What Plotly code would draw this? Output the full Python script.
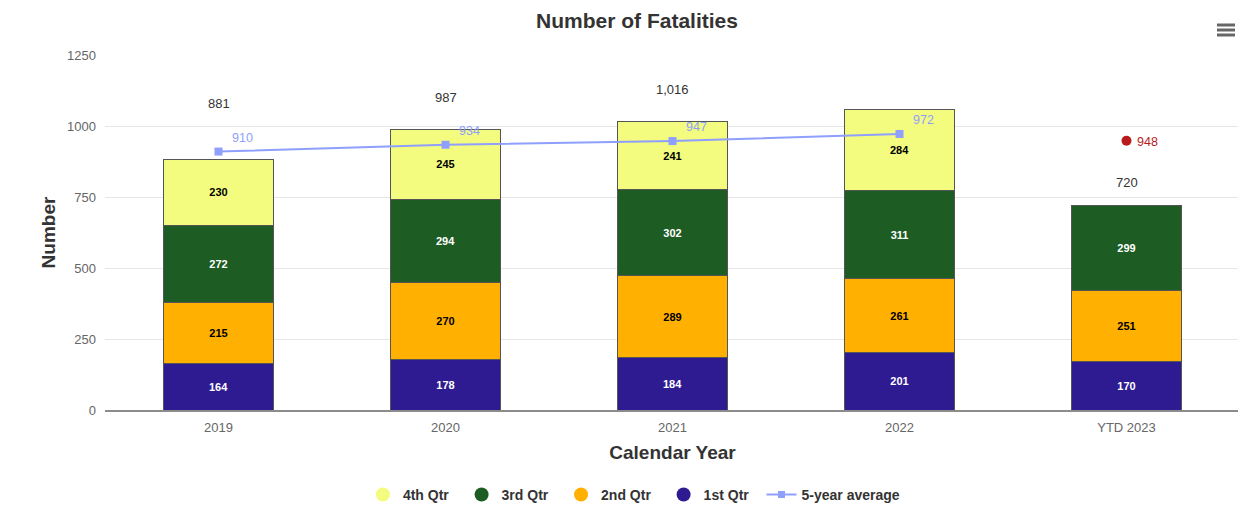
import plotly.graph_objects as go

categories = ["2019", "2020", "2021", "2022", "YTD 2023"]
q1 = [164, 178, 184, 201, 170]
q2 = [215, 270, 289, 261, 251]
q3 = [272, 294, 302, 311, 299]
q4 = [230, 245, 241, 284, None]
avg_cats = ["2019", "2020", "2021", "2022"]
avg_vals = [910, 934, 947, 972]
ytd_proj_cat = ["YTD 2023"]
ytd_proj_val = [948]
y_ticks = [0, 250, 500, 750, 1000, 1250]

FONT = "Liberation Sans, Arial, sans-serif"
colors = {"q1": "#2e1a91", "q2": "#ffb000", "q3": "#1d5c22", "q4": "#f3fc7f"}
avg_color = "#8f9ffe"
red = "#b81c1c"

# page has an 8px body margin -> figure is 8px smaller and margins shifted
W, H = 1238, 511

fig = go.Figure()

series = [("1st Qtr", q1, colors["q1"], "white"),
          ("2nd Qtr", q2, colors["q2"], "black"),
          ("3rd Qtr", q3, colors["q3"], "white"),
          ("4th Qtr", q4, colors["q4"], "black")]
for name, vals, col, tcol in series:
    fig.add_trace(go.Bar(
        x=categories, y=vals, name=name, marker=dict(color=col, line=dict(color="#555555", width=1)),
        texttemplate="<b>%{y}</b>", textposition="inside", insidetextanchor="middle",
        textfont=dict(color=tcol, size=11, family=FONT), showlegend=False,
        width=0.485, hoverinfo="x+y+name"))

fig.add_trace(go.Scatter(
    x=avg_cats, y=avg_vals, mode="lines+markers", name="5-year average",
    line=dict(color=avg_color, width=2), marker=dict(symbol="square", size=8, color=avg_color),
    showlegend=False))
for cat, v in zip(avg_cats, avg_vals):
    fig.add_annotation(x=categories.index(cat), y=v, text=str(v), showarrow=False,
                       xshift=24, yshift=14, font=dict(size=12.5, color=avg_color, family=FONT))

fig.add_trace(go.Scatter(
    x=ytd_proj_cat, y=ytd_proj_val, mode="markers", name="Projected",
    marker=dict(symbol="circle", size=10, color=red), showlegend=False))
for cat, v in zip(ytd_proj_cat, ytd_proj_val):
    fig.add_annotation(x=categories.index(cat), y=v, text=str(v), showarrow=False,
                       xshift=21, yshift=-1, font=dict(size=12.5, color=red, family=FONT))

# legend entries (circles, as in reference)
for name, col in [("4th Qtr", colors["q4"]), ("3rd Qtr", colors["q3"]),
                  ("2nd Qtr", colors["q2"]), ("1st Qtr", colors["q1"])]:
    fig.add_trace(go.Scatter(x=[categories[0]], y=[None], mode="markers",
                             name=f"<b>{name}</b>\u00a0\u00a0",
                             marker=dict(symbol="circle", size=14, color=col)))
fig.add_trace(go.Scatter(x=[categories[0]], y=[None], mode="lines+markers", name="<b>5-year average</b>",
                         line=dict(color=avg_color, width=2),
                         marker=dict(symbol="square", size=7, color=avg_color)))

# stack totals
totals = [sum(v for v in vals if v is not None) for vals in zip(q1, q2, q3, q4)]
shifts = [56, 32, 32, None, 23]
for i, (tot, sh) in enumerate(zip(totals, shifts)):
    if sh is None:
        continue
    fig.add_annotation(x=i, y=tot, text=f"{tot:,}", showarrow=False, yanchor="middle",
                       yshift=sh, font=dict(size=13, color="#333333", family=FONT))

# hamburger menu icon
for py in [25, 30, 35]:
    yp = (410 - py) / 355
    fig.add_shape(type="line", xref="paper", yref="paper", x0=(1217 - 105) / 1135, x1=(1235 - 105) / 1135,
                  y0=yp, y1=yp, line=dict(color="#666666", width=3))

fig.update_layout(
    width=W, height=H,
    margin=dict(l=97, r=6, t=47, b=109),
    barmode="stack",
    plot_bgcolor="white", paper_bgcolor="white",
    font=dict(family=FONT, color="#333333"),
    title=dict(text="<b>Number of Fatalities</b>", x=629 / W, xanchor="center",
               y=1 - 13 / H, yanchor="middle", yref="container",
               font=dict(size=21, color="#333333", family=FONT)),
    legend=dict(orientation="h", x=0.466, xanchor="center", y=-0.194, yanchor="top",
                font=dict(size=14, color="#333333", family=FONT), traceorder="normal"),
    xaxis=dict(type="category", categoryorder="array", categoryarray=categories,
               range=[-0.5, 4.5],
               showline=True, linecolor="#8c8c8c", linewidth=2, showgrid=False,
               tickfont=dict(size=13, color="#666666", family=FONT), ticks="", ticklabelstandoff=4,
               title=dict(text="<b>Calendar Year</b>", standoff=12,
                          font=dict(size=19, color="#333333", family=FONT))),
    yaxis=dict(range=[0, 1250], tickvals=y_ticks, ticktext=[str(t) for t in y_ticks],
               showgrid=True, gridcolor="#e6e6e6", gridwidth=1, zeroline=False,
               tickfont=dict(size=13, color="#666666", family=FONT), ticklabelstandoff=8,
               title=dict(text="<b>Number</b>", standoff=6,
                          font=dict(size=19, color="#333333", family=FONT))),
)

fig.write_html("out.html")
